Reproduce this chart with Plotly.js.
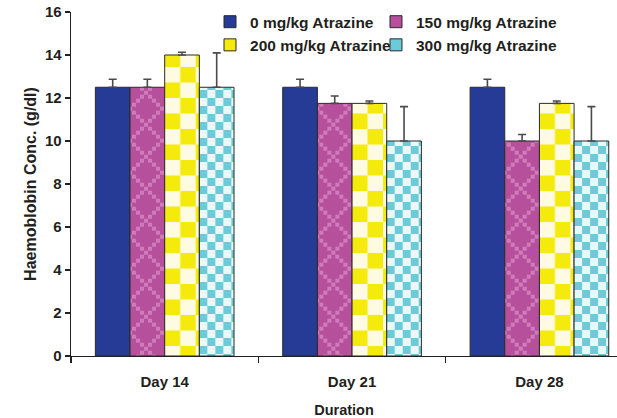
<!DOCTYPE html>
<html>
<head>
<meta charset="utf-8">
<script src="https://cdn.plot.ly/plotly-3.0.1.min.js"></script>
<style>
html,body{margin:0;padding:0;background:#fff;}
#chart{width:617px;height:418px;}
</style>
</head>
<body>
<div id="chart"></div>
<script>
// ---- data ----
var categories = ["Day 14", "Day 21", "Day 28"];
var seriesNames = ["0 mg/kg Atrazine", "150 mg/kg Atrazine", "200 mg/kg Atrazine", "300 mg/kg Atrazine"];
var dose0   = [12.5, 12.5, 12.5];
var dose150 = [12.5, 11.75, 10.0];
var dose200 = [14.0, 11.75, 11.75];
var dose300 = [12.5, 10.0, 10.0];
var err0   = [0.37, 0.37, 0.37];
var err150 = [0.37, 0.34, 0.30];
var err200 = [0.13, 0.11, 0.11];
var err300 = [1.6, 1.6, 1.6];
var yTickVals = [0, 2, 4, 6, 8, 10, 12, 14, 16];

var values = [dose0, dose150, dose200, dose300];
var errors = [err0, err150, err200, err300];
var colors = ["#253b95", "#b6509d", "#f4ea0b", "#6dcbd9"];
var patternKinds = [null, "diamond", "bigcheck", "smallcheck"];
var legendOf = ["legend", "legend2", "legend", "legend2"];

var FONT = "Liberation Sans, Arial, Helvetica, sans-serif";
var INK = "#231f20";

var data = values.map(function (v, i) {
  return {
    type: "bar",
    name: seriesNames[i],
    legend: legendOf[i],
    x: categories,
    y: v,
    marker: { color: colors[i], line: { color: "#2a2a2a", width: 1 } },
    error_y: {
      type: "data", array: errors[i], symmetric: false,
      arrayminus: errors[i].map(function () { return 0; }),
      color: "#4a4a4c", thickness: 1.6, width: 4
    }
  };
});

var legendFont = { family: FONT, size: 15.5, weight: "bold", color: INK };
var layout = {
  width: 617, height: 418,
  margin: { l: 71, r: 0, t: 12, b: 62 },
  paper_bgcolor: "#ffffff", plot_bgcolor: "#ffffff",
  barmode: "group", bargap: 0.26, bargroupgap: 0,
  font: { family: FONT, color: INK },
  showlegend: true,
  legend: {
    orientation: "v", x: 0.2546, xanchor: "left", y: 1.02, yanchor: "top",
    font: legendFont, itemwidth: 30, bgcolor: "rgba(0,0,0,0)", traceorder: "normal"
  },
  legend2: {
    orientation: "v", x: 0.5586, xanchor: "left", y: 1.02, yanchor: "top",
    font: legendFont, itemwidth: 30, bgcolor: "rgba(0,0,0,0)", traceorder: "normal"
  },
  xaxis: {
    type: "category", range: [-0.5, 2.414],
    tickson: "boundaries", ticks: "outside", ticklen: 6, tickwidth: 1.3, tickcolor: INK,
    showline: true, linecolor: INK, linewidth: 1.3, showgrid: false, zeroline: false,
    ticklabelstandoff: 12,
    tickfont: { family: FONT, size: 15, weight: "bold", color: INK },
    title: { text: "Duration", font: { family: FONT, size: 14.5, weight: "bold", color: INK }, standoff: 17 }
  },
  yaxis: {
    range: [0, 16], tickmode: "array", tickvals: yTickVals,
    ticks: "outside", ticklen: 5, tickwidth: 1.3, tickcolor: INK,
    showline: true, linecolor: INK, linewidth: 1.3, showgrid: false, zeroline: false,
    tickfont: { family: FONT, size: 15, weight: "bold", color: INK },
    title: { text: "Haemoblobin Conc. (g/dl)", font: { family: FONT, size: 16, weight: "bold", color: INK }, standoff: 4 }
  }
};

var SVGNS = "http://www.w3.org/2000/svg";
function rect(p, x, y, w, h, fill) {
  var r = document.createElementNS(SVGNS, "rect");
  r.setAttribute("x", x); r.setAttribute("y", y);
  r.setAttribute("width", w); r.setAttribute("height", h);
  r.setAttribute("fill", fill);
  p.appendChild(r);
}
function makePattern(kind, id, x0) {
  var p = document.createElementNS(SVGNS, "pattern");
  p.setAttribute("id", id);
  p.setAttribute("patternUnits", "userSpaceOnUse");
  if (kind === "bigcheck") {
    var s = 15.5;
    p.setAttribute("x", x0); p.setAttribute("y", 334);
    p.setAttribute("width", 2 * s); p.setAttribute("height", 2 * s);
    rect(p, 0, 0, 2 * s, 2 * s, "#fffbe3");
    rect(p, s, 0, s, s, "#f4ea0b");
    rect(p, 0, s, s, s, "#f4ea0b");
  } else if (kind === "smallcheck") {
    var c = 8;
    p.setAttribute("x", x0); p.setAttribute("y", 334);
    p.setAttribute("width", 2 * c); p.setAttribute("height", 2 * c);
    rect(p, 0, 0, 2 * c, 2 * c, "#eaf8f8");
    rect(p, 0, 0, c, c, "#6dcbd9");
    rect(p, c, c, c, c, "#6dcbd9");
  } else if (kind === "diamond") {
    var T = 32;
    p.setAttribute("x", x0); p.setAttribute("y", 128.7);
    p.setAttribute("width", T); p.setAttribute("height", T);
    rect(p, 0, 0, T, T, "#b6509d");
    for (var k = -4; k < 4; k++) {
      var cx = 16 + 4 * k;
      var cy1 = ((16 + 4 * k) % T + T) % T;
      var cy2 = ((16 - 4 * k) % T + T) % T;
      [[cx, cy1], [cx, cy2]].forEach(function (c2) {
        var xs = [c2[0]], ys = [c2[1]];
        if (c2[0] === 0) xs.push(T);
        if (c2[1] === 0) ys.push(T);
        xs.forEach(function (xx) { ys.forEach(function (yy) {
          rect(p, xx - 2, yy - 2, 4, 4, "#d07cba");
        }); });
      });
    }
  }
  return p;
}

Plotly.newPlot("chart", data, layout, { staticPlot: true, displayModeBar: false }).then(function (gd) {
  var defs = gd.querySelector("svg.main-svg defs");
  var traces = gd.querySelectorAll(".barlayer .trace");
  traces.forEach(function (tr, ti) {
    var kind = patternKinds[ti];
    if (!kind) return;
    tr.querySelectorAll(".points .point path").forEach(function (path, pi) {
      var bb = path.getBBox();
      var id = "hbpat" + ti + "_" + pi;
      defs.appendChild(makePattern(kind, id, bb.x));
      path.style.fill = "url(#" + id + ")";
    });
  });
});
</script>
</body>
</html>
